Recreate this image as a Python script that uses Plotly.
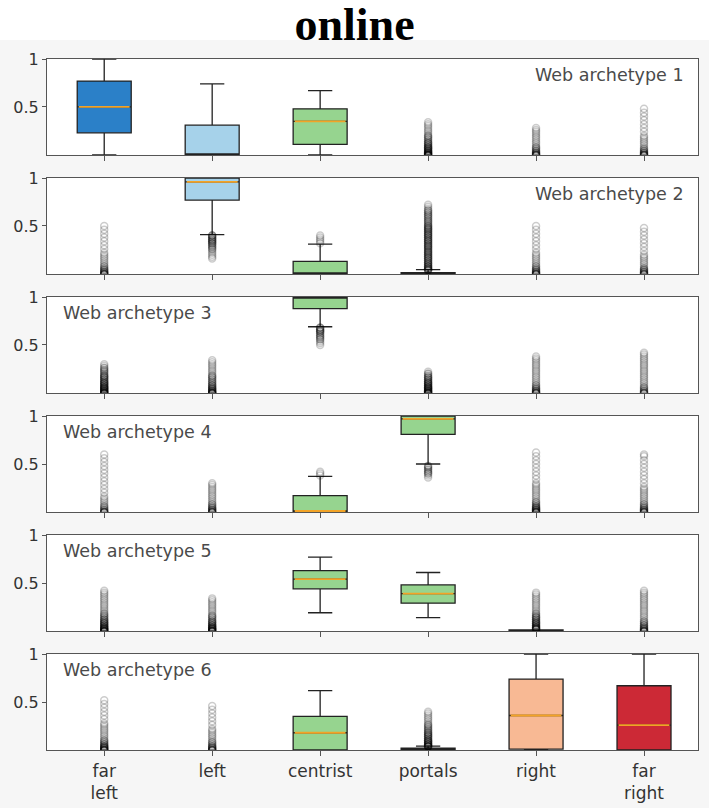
import plotly.graph_objects as go
from plotly.subplots import make_subplots

# ---------------- data ----------------
CATEGORIES = ["far<br>left", "left", "centrist", "portals", "right", "far<br>right"]
POSITIONS = [1, 2, 3, 4, 5, 6]
PANEL_LABELS = ["Web archetype 1", "Web archetype 2", "Web archetype 3",
                "Web archetype 4", "Web archetype 5", "Web archetype 6"]
BOX_COLORS = ["#2b80c8", "#a6d2ea", "#96d48f", "#96d48f", "#f8b994", "#cc2936"]

# per-panel box statistics (one value per category)
Q1 = [
    [0.23, 0.00, 0.11, 0.00, 0.00, 0.00],
    [0.00, 0.77, 0.00, 0.00, 0.00, 0.00],
    [0.00, 0.00, 0.88, 0.00, 0.00, 0.00],
    [0.00, 0.00, 0.00, 0.81, 0.00, 0.00],
    [0.00, 0.00, 0.44, 0.29, 0.00, 0.00],
    [0.00, 0.00, 0.00, 0.00, 0.01, 0.00],
]
MEDIAN = [
    [0.50, 0.00, 0.35, 0.00, 0.00, 0.00],
    [0.00, 0.96, 0.00, 0.00, 0.00, 0.00],
    [0.00, 0.00, 1.00, 0.00, 0.00, 0.00],
    [0.00, 0.00, 0.01, 0.97, 0.00, 0.00],
    [0.00, 0.00, 0.54, 0.39, 0.00, 0.00],
    [0.00, 0.00, 0.18, 0.00, 0.36, 0.26],
]
Q3 = [
    [0.77, 0.31, 0.48, 0.00, 0.00, 0.00],
    [0.00, 1.00, 0.13, 0.012, 0.00, 0.00],
    [0.00, 0.00, 1.00, 0.00, 0.00, 0.00],
    [0.00, 0.00, 0.17, 1.00, 0.00, 0.00],
    [0.00, 0.00, 0.63, 0.48, 0.01, 0.00],
    [0.00, 0.00, 0.35, 0.02, 0.74, 0.67],
]
LOWER = [
    [0.00, 0.00, 0.00, 0.00, 0.00, 0.00],
    [0.00, 0.41, 0.00, 0.00, 0.00, 0.00],
    [0.00, 0.00, 0.69, 0.00, 0.00, 0.00],
    [0.00, 0.00, 0.00, 0.50, 0.00, 0.00],
    [0.00, 0.00, 0.19, 0.14, 0.00, 0.00],
    [0.00, 0.00, 0.00, 0.00, 0.00, 0.00],
]
UPPER = [
    [1.00, 0.74, 0.67, 0.00, 0.00, 0.00],
    [0.00, 1.00, 0.31, 0.045, 0.00, 0.00],
    [0.00, 0.00, 1.00, 0.00, 0.00, 0.00],
    [0.00, 0.00, 0.37, 1.00, 0.00, 0.00],
    [0.00, 0.00, 0.77, 0.61, 0.01, 0.00],
    [0.00, 0.00, 0.62, 0.04, 1.00, 1.00],
]

# outliers (fliers): value levels and how many outliers sit at each level,
# per panel and per category (read off the darkness of each flier column)
FLIER_LEVELS = [0.00, 0.02, 0.04, 0.06, 0.08, 0.10, 0.12, 0.14, 0.16, 0.18,
                0.20, 0.22, 0.24, 0.26, 0.28, 0.30, 0.32, 0.34, 0.36, 0.38,
                0.40, 0.42, 0.44, 0.46, 0.48, 0.50, 0.52, 0.54, 0.56, 0.58,
                0.60, 0.62, 0.64, 0.66, 0.68, 0.70, 0.72]
FLIER_COUNTS = [
    [  # panel 1
        [], [], [],
        [8, 6, 5, 4, 4, 3, 3, 2, 2, 2, 2, 1, 1, 1, 1, 1, 1, 1],
        [6, 4, 3, 2, 2, 1, 1, 1, 1, 1, 1, 1, 1, 1, 1],
        [6, 4, 3, 2, 1, 1, 1, 1, 1, 1, 1, 0, 1, 0, 1, 0, 1, 0, 1, 0, 1, 0, 1, 0, 1],
    ],
    [  # panel 2
        [6, 4, 3, 2, 2, 1, 1, 1, 1, 1, 1, 1, 0, 1, 0, 1, 0, 1, 0, 1, 0, 1, 0, 1, 0, 1],
        [0, 0, 0, 0, 0, 0, 0, 0, 1, 1, 1, 1, 1, 2, 2, 2, 3, 3, 3, 3, 3],
        [0, 0, 0, 0, 0, 0, 0, 0, 0, 0, 0, 0, 0, 0, 0, 0, 1, 1, 1, 1, 1],
        [0, 0, 4, 4, 4, 3, 3, 3, 3, 3, 3, 3, 3, 3, 3, 3, 3, 3, 3, 3, 3, 3, 3, 3,
         3, 3, 2, 2, 2, 2, 2, 2, 2, 2, 1, 1, 1],
        [6, 4, 3, 2, 2, 1, 1, 1, 1, 1, 1, 1, 0, 1, 0, 1, 0, 1, 0, 1, 0, 1, 0, 1, 0, 1],
        [5, 4, 3, 2, 1, 1, 1, 1, 1, 1, 1, 0, 1, 0, 1, 0, 1, 0, 1, 0, 1, 0, 1, 0, 1],
    ],
    [  # panel 3
        [8, 6, 5, 5, 4, 4, 3, 3, 3, 3, 2, 2, 2, 2, 1, 1],
        [8, 5, 4, 3, 3, 2, 2, 2, 2, 2, 1, 1, 1, 1, 1, 1, 1, 1],
        [0, 0, 0, 0, 0, 0, 0, 0, 0, 0, 0, 0, 0, 0, 0, 0, 0, 0, 0, 0, 0, 0, 0, 0,
         0, 1, 1, 1, 2, 2, 2, 2, 3, 3, 3],
        [8, 6, 5, 5, 4, 4, 3, 3, 3, 2, 2, 1],
        [6, 4, 3, 2, 2, 1, 1, 1, 1, 1, 1, 1, 1, 1, 1, 1, 1, 1, 1, 1],
        [5, 3, 2, 2, 1, 1, 1, 1, 1, 1, 1, 1, 1, 1, 1, 1, 1, 1, 1, 1, 1, 1],
    ],
    [  # panel 4
        [6, 3, 2, 2, 1, 1, 1, 1, 1, 0, 1, 0, 1, 0, 1, 0, 1, 0, 1, 0, 1, 0, 1, 0, 1,
         0, 1, 0, 1, 0, 1],
        [6, 4, 3, 2, 2, 1, 1, 1, 1, 1, 1, 1, 1, 1, 1, 1],
        [0, 0, 0, 0, 0, 0, 0, 0, 0, 0, 0, 0, 0, 0, 0, 0, 0, 0, 0, 1, 1, 1],
        [0, 0, 0, 0, 0, 0, 0, 0, 0, 0, 0, 0, 0, 0, 0, 0, 0, 0, 1, 1, 2, 2, 2, 2, 2],
        [7, 5, 4, 3, 2, 2, 1, 1, 1, 1, 1, 1, 1, 1, 1, 1, 0, 1, 0, 1, 0, 1, 0, 1, 0,
         1, 0, 1, 0, 1, 0, 1],
        [6, 4, 3, 2, 2, 1, 1, 1, 1, 1, 1, 1, 1, 1, 0, 1, 0, 1, 0, 1, 0, 1, 0, 1, 0,
         1, 0, 1, 0, 1, 1],
    ],
    [  # panel 5
        [8, 6, 5, 4, 4, 3, 3, 2, 2, 2, 1, 1, 1, 1, 1, 1, 1, 1, 1, 1, 1, 1],
        [8, 6, 5, 4, 3, 3, 2, 2, 2, 1, 1, 1, 1, 1, 1, 1, 1, 1],
        [], [],
        [0, 6, 5, 4, 4, 3, 3, 3, 2, 2, 1, 1, 1, 1, 1, 1, 1, 1, 1, 1, 1],
        [6, 4, 3, 3, 2, 2, 1, 1, 1, 1, 1, 1, 1, 1, 1, 1, 1, 1, 1, 1, 1, 1],
    ],
    [  # panel 6
        [7, 5, 4, 3, 2, 2, 1, 1, 1, 1, 1, 1, 1, 1, 1, 0, 1, 0, 1, 0, 1, 0, 1, 0, 1, 0, 1],
        [6, 4, 3, 2, 2, 1, 1, 1, 1, 1, 1, 1, 0, 1, 0, 1, 0, 1, 0, 1, 0, 1, 0, 1],
        [],
        [0, 0, 6, 5, 4, 4, 3, 3, 3, 3, 2, 2, 2, 2, 1, 1, 1, 1, 1, 1, 1],
        [], [],
    ],
]

# ---------------- figure ----------------
N = len(PANEL_LABELS)
fig = make_subplots(rows=N, cols=1, vertical_spacing=0.0335)

MEDIAN_COLOR = "#f2a327"
EDGE = "#222222"
FRAME = "#555555"

for p in range(N):
    row = p + 1
    for c, pos in enumerate(POSITIONS):
        counts = FLIER_COUNTS[p][c]
        ys = []
        for lvl, n in zip(FLIER_LEVELS, counts):
            ys.extend([lvl] * n)
        if ys:
            fig.add_trace(go.Scatter(
                x=[pos] * len(ys), y=ys, mode="markers",
                marker=dict(symbol="circle-open", size=7, color="rgba(0,0,0,0.2)",
                            line=dict(width=1.5)),
                showlegend=False, hoverinfo="skip"), row=row, col=1)
        # a box collapsed onto the frame at 0 is hidden by the frame in the reference
        if UPPER[p][c] <= 0:
            continue
        fig.add_trace(go.Box(
            x=[pos], q1=[Q1[p][c]], median=[MEDIAN[p][c]], q3=[Q3[p][c]],
            lowerfence=[LOWER[p][c]], upperfence=[UPPER[p][c]],
            fillcolor=BOX_COLORS[c], line=dict(color=EDGE, width=1.3),
            width=0.5, whiskerwidth=0.45, boxpoints=False,
            showlegend=False, hoverinfo="skip"), row=row, col=1)
        # median line overlay in orange (medians lying on the frame stay hidden)
        m = MEDIAN[p][c]
        if 0 < m < 1:
            fig.add_trace(go.Box(
                x=[pos], q1=[m], median=[m], q3=[m], lowerfence=[m], upperfence=[m],
                fillcolor="rgba(0,0,0,0)", line=dict(color=MEDIAN_COLOR, width=1.8),
                width=0.47, whiskerwidth=0, boxpoints=False,
                showlegend=False, hoverinfo="skip"), row=row, col=1)

    fig.update_xaxes(row=row, col=1, range=[0.47, 6.5], tickvals=POSITIONS,
                     ticktext=CATEGORIES, showticklabels=(row == N),
                     ticks="outside", ticklen=5, tickcolor=FRAME, automargin=False,
                     showline=True, mirror=True, linecolor=FRAME, linewidth=1.2,
                     showgrid=False, zeroline=False,
                     tickfont=dict(family="DejaVu Sans", size=17, color="#333"))
    fig.update_yaxes(row=row, col=1, range=[0, 1], tickvals=[0.5, 1], ticktext=["0.5", "1"],
                     ticks="outside", ticklen=4, tickcolor=FRAME, automargin=False,
                     showline=True, mirror=True, linecolor=FRAME, linewidth=1.2,
                     showgrid=False, zeroline=False,
                     tickfont=dict(family="DejaVu Sans", size=16, color="#333"))
    right = p < 2
    fig.add_annotation(text=PANEL_LABELS[p], xref=f"x{'' if row == 1 else row} domain",
                       yref=f"y{'' if row == 1 else row} domain",
                       x=0.982 if right else 0.022, y=0.83,
                       xanchor="right" if right else "left", yanchor="middle",
                       showarrow=False,
                       font=dict(family="DejaVu Sans", size=17.5, color="#4a4a4a"))

fig.update_layout(
    width=709, height=808,
    margin=dict(l=47, r=11, t=59, b=58),
    paper_bgcolor="#f6f6f6", plot_bgcolor="white",
    boxmode="overlay",
    title=dict(text="<b>online</b>", x=0.5, xanchor="center", y=1 - 24 / 808, yanchor="middle",
               font=dict(family="Liberation Serif", size=46, color="black")),
    shapes=[dict(type="rect", xref="paper", yref="paper", x0=-0.1, x1=1.1,
                 y0=1 + 19 / 691, y1=1.1, fillcolor="white", line=dict(width=0), layer="below")],
)

fig.write_html("out.html", config={"displayModeBar": False},
               post_script="document.body.style.margin='0';")
